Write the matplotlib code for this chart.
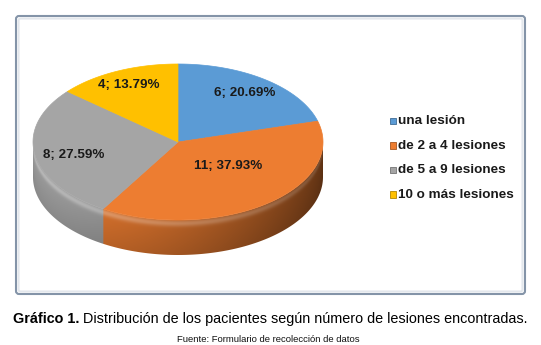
import numpy as np
import matplotlib
matplotlib.use('Agg')
import matplotlib.pyplot as plt
from matplotlib.patches import FancyBboxPatch, Rectangle, Polygon
from matplotlib.colors import to_rgb

categories = ['una lesión', 'de 2 a 4 lesiones', 'de 5 a 9 lesiones', '10 o más lesiones']
counts = [6, 11, 8, 4]
colors = ['#5B9BD5', '#ED7D31', '#A5A5A5', '#FFC000']

caption_bold = 'Gráfico 1.'
caption_text = ' Distribución de los pacientes según número de lesiones encontradas.'
source_text = 'Fuente: Formulario de recolección de datos'

# pie geometry (pixels)
cx, cy = 178, 142
rx, ry = 145, 78
depth = 35

plt.rcParams['font.family'] = ['Liberation Sans', 'DejaVu Sans']

fig = plt.figure(figsize=(5.41, 3.45), dpi=100)
ax = fig.add_axes([0, 0, 1, 1])
ax.set_xlim(0, 541)
ax.set_ylim(345, 0)
ax.axis('off')


def rim(theta):
    return cx + rx * np.cos(theta), cy - ry * np.sin(theta)


# chart frame
ax.add_patch(FancyBboxPatch((16, 16), 509, 278, boxstyle='round,pad=0,rounding_size=3',
                            fc='white', ec='#8494a8', lw=1.5, zorder=0))
ax.add_patch(FancyBboxPatch((18.5, 18.5), 504, 273, boxstyle='round,pad=0,rounding_size=2',
                            fc='none', ec='#e3e7ec', lw=1.5, zorder=0))

total = sum(counts)
fracs = np.array(counts) / total
edges = np.deg2rad(90 - 360 * np.concatenate([[0], np.cumsum(fracs)]))

# side wall as a shaded raster clipped to the front band of the cylinder
x0, x1 = cx - rx - 1, cx + rx + 1
y0, y1 = cy - 1, cy + ry + depth + 1
gx, gy = np.meshgrid(np.linspace(x0, x1, 700), np.linspace(y0, y1, 200))
u = np.clip((gx - cx) / rx, -1, 1)
theta = -np.arccos(u)
t = np.clip((gy - (cy + ry * np.sqrt(1 - u ** 2))) / depth, 0, 1)

side = np.zeros(gx.shape + (3,))
for i in range(len(counts)):
    hi, lo = edges[i], edges[i + 1]
    m = np.zeros(gx.shape, dtype=bool)
    for k in (-1, 0, 1):
        m |= (theta + 2 * np.pi * k <= hi) & (theta + 2 * np.pi * k >= lo)
    side[m] = to_rgb(colors[i])

light = np.deg2rad(-160)
k_ang = 0.4 + 0.55 * (1 + np.cos(theta - light)) / 2
glow = 0.3 * np.exp(-((t - 0.1) / 0.09) ** 2) * k_ang
side = side * (k_ang * (1 - 0.12 * t))[..., None]
side = side + (1 - side) * glow[..., None]

im = ax.imshow(np.clip(side, 0, 1), extent=(x0, x1, y1, y0), interpolation='bilinear',
               zorder=2, aspect='auto')
front = np.linspace(0, -np.pi, 200)
fx, fy = rim(front)
band = np.column_stack([np.r_[fx, fx[::-1]], np.r_[fy, fy[::-1] + depth]])
clip = Polygon(band, closed=True, transform=ax.transData)
im.set_clip_path(clip)

# top face
for i in range(len(counts)):
    th = np.linspace(edges[i], edges[i + 1], 120)
    x, y = rim(th)
    pts = np.column_stack([np.r_[cx, x], np.r_[cy, y]])
    ax.add_patch(Polygon(pts, closed=True, fc=colors[i], ec=colors[i], lw=0.5, zorder=3))

# data labels
label_r = [0.78, 0.46, 0.74, 0.81]
label_dt = [1, 11, 4, 0]
for i, n in enumerate(counts):
    mid = (edges[i] + edges[i + 1]) / 2 + np.deg2rad(label_dt[i])
    lx = cx + label_r[i] * rx * np.cos(mid)
    ly = cy - label_r[i] * ry * np.sin(mid)
    ax.text(lx, ly, f'{n}; {100 * n / total:.2f}%', ha='center', va='center',
            fontsize=9.6, fontweight='bold', color='#1a1a1a', zorder=5)

# legend
for i, name in enumerate(categories):
    y = 121 + 24.6 * i
    ax.add_patch(Rectangle((389.5, y - 3.5), 6.5, 6.5, fc=colors[i],
                           ec=tuple(np.array(to_rgb(colors[i])) * 0.7), lw=0.6, zorder=5))
    ax.text(398.5, y, name, ha='left', va='center', fontsize=9.7,
            fontweight='bold', color='#1a1a1a', zorder=5)

# caption under the frame
r = fig.canvas.get_renderer()
tb = ax.text(0, 319, caption_bold, fontsize=10.4, fontweight='bold', va='center', ha='left')
tn = ax.text(0, 319, caption_text, fontsize=10.4, va='center', ha='left')
wb = tb.get_window_extent(r).width
wn = tn.get_window_extent(r).width
start = 270 - (wb + wn) / 2
tb.set_x(start)
tn.set_x(start + wb)

ax.text(268, 340, source_text, fontsize=6.8, ha='center', va='center', color='#111111')

fig.savefig('out.png', dpi=100)
